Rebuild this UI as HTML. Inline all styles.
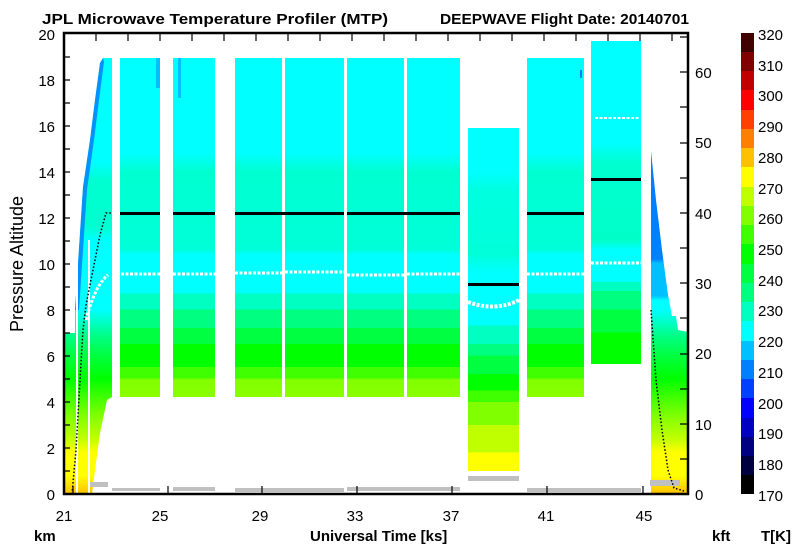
<!DOCTYPE html>
<html><head><meta charset="utf-8"><style>
html,body{margin:0;padding:0;background:#fff}
svg{display:block}
text{font-family:"Liberation Sans",Arial,sans-serif;fill:#000}
</style></head><body>
<svg width="800" height="559" viewBox="0 0 800 559" xmlns="http://www.w3.org/2000/svg">
<defs>
<linearGradient id="gn" gradientUnits="userSpaceOnUse" x1="0" y1="494" x2="0" y2="33">
<stop offset="0" stop-color="#c0ff00"/>
<stop offset="0.25" stop-color="#80ff00"/><stop offset="0.25" stop-color="#40ff00"/>
<stop offset="0.275" stop-color="#40ff00"/><stop offset="0.275" stop-color="#00ff00"/>
<stop offset="0.325" stop-color="#00ff00"/><stop offset="0.325" stop-color="#00ff40"/>
<stop offset="0.36" stop-color="#00ff40"/><stop offset="0.36" stop-color="#00ff80"/>
<stop offset="0.40" stop-color="#00ff80"/><stop offset="0.40" stop-color="#00ffc0"/>
<stop offset="0.435" stop-color="#00ffc0"/><stop offset="0.435" stop-color="#00ffff"/>
<stop offset="0.52" stop-color="#00ffff"/><stop offset="0.53" stop-color="#00ffd8"/>
<stop offset="0.70" stop-color="#00ffd0"/><stop offset="0.74" stop-color="#00ffff"/>
<stop offset="1" stop-color="#00ffff"/>
</linearGradient>
<linearGradient id="g7" gradientUnits="userSpaceOnUse" x1="0" y1="494" x2="0" y2="33">
<stop offset="0.05" stop-color="#ffff00"/><stop offset="0.09" stop-color="#ffff00"/>
<stop offset="0.09" stop-color="#c0ff00"/><stop offset="0.15" stop-color="#c0ff00"/>
<stop offset="0.15" stop-color="#80ff00"/><stop offset="0.20" stop-color="#80ff00"/>
<stop offset="0.20" stop-color="#40ff00"/><stop offset="0.225" stop-color="#40ff00"/>
<stop offset="0.225" stop-color="#00ff00"/><stop offset="0.26" stop-color="#00ff00"/>
<stop offset="0.26" stop-color="#00ff40"/><stop offset="0.30" stop-color="#00ff40"/>
<stop offset="0.30" stop-color="#00ff80"/><stop offset="0.325" stop-color="#00ff80"/>
<stop offset="0.325" stop-color="#00ffc0"/><stop offset="0.365" stop-color="#00ffc0"/>
<stop offset="0.365" stop-color="#00ffff"/><stop offset="0.48" stop-color="#00ffff"/>
<stop offset="0.52" stop-color="#00ffd8"/><stop offset="0.66" stop-color="#00ffe0"/>
<stop offset="0.70" stop-color="#00ffff"/><stop offset="1" stop-color="#00ffff"/>
</linearGradient>
<linearGradient id="g9" gradientUnits="userSpaceOnUse" x1="0" y1="494" x2="0" y2="33">
<stop offset="0.28" stop-color="#00ff00"/><stop offset="0.35" stop-color="#00ff00"/>
<stop offset="0.35" stop-color="#00ff40"/><stop offset="0.40" stop-color="#00ff40"/>
<stop offset="0.40" stop-color="#00ff80"/><stop offset="0.44" stop-color="#00ff80"/>
<stop offset="0.44" stop-color="#00ffc0"/><stop offset="0.46" stop-color="#00ffc0"/>
<stop offset="0.46" stop-color="#00ffff"/><stop offset="0.53" stop-color="#00ffff"/>
<stop offset="0.55" stop-color="#00ffc8"/><stop offset="0.72" stop-color="#00ffd0"/>
<stop offset="0.76" stop-color="#00ffff"/><stop offset="1" stop-color="#00ffff"/>
</linearGradient>
<linearGradient id="gw" gradientUnits="userSpaceOnUse" x1="0" y1="494" x2="0" y2="33">
<stop offset="0" stop-color="#ffc000"/><stop offset="0.04" stop-color="#ffff00"/>
<stop offset="0.09" stop-color="#ffff00"/><stop offset="0.12" stop-color="#c0ff00"/>
<stop offset="0.17" stop-color="#80ff00"/><stop offset="0.21" stop-color="#40ff00"/>
<stop offset="0.25" stop-color="#00ff00"/><stop offset="0.30" stop-color="#00ff40"/>
<stop offset="0.34" stop-color="#00ff80"/><stop offset="0.37" stop-color="#00ffc0"/>
<stop offset="0.40" stop-color="#00ffff"/><stop offset="0.55" stop-color="#00ffff"/>
<stop offset="0.58" stop-color="#00ffd0"/><stop offset="0.68" stop-color="#00ffd0"/>
<stop offset="0.72" stop-color="#00ffff"/><stop offset="1" stop-color="#00ffff"/>
</linearGradient>
<linearGradient id="gd" gradientUnits="userSpaceOnUse" x1="0" y1="494" x2="0" y2="33">
<stop offset="0" stop-color="#ffc000"/><stop offset="0.04" stop-color="#ffff00"/>
<stop offset="0.09" stop-color="#ffff00"/><stop offset="0.12" stop-color="#c0ff00"/>
<stop offset="0.17" stop-color="#80ff00"/><stop offset="0.21" stop-color="#40ff00"/>
<stop offset="0.25" stop-color="#00ff00"/><stop offset="0.30" stop-color="#00ff40"/>
<stop offset="0.34" stop-color="#00ff80"/><stop offset="0.37" stop-color="#00ffc0"/>
<stop offset="0.40" stop-color="#00ffff"/><stop offset="0.42" stop-color="#00ffff"/>
<stop offset="0.43" stop-color="#00c0ff"/><stop offset="0.50" stop-color="#00c0ff"/>
<stop offset="0.51" stop-color="#0080ff"/><stop offset="1" stop-color="#0080ff"/>
</linearGradient>
</defs>

<!-- climb -->
<polygon fill="url(#gw)" points="64,333 75,333 75,310 80,233 83,187 90,140 95,100 100,63 103,58 112,58 112,397 107,400 100,433 95,470 92,494 64,494"/>
<polygon fill="#0080ff" opacity="0.85" points="75,310 80,233 83,187 90,140 95,100 100,63 103,58 104,62 99,100 94,140 87,190 84,235 79,310"/>
<rect x="76" y="240" width="2" height="254" fill="#fff"/>
<rect x="88" y="240" width="2" height="254" fill="#fff"/>
<!-- segments -->
<rect x="120" y="58" width="40" height="339" fill="url(#gn)"/>
<rect x="173" y="58" width="42" height="339" fill="url(#gn)"/>
<rect x="235" y="58" width="47" height="339" fill="url(#gn)"/>
<rect x="285" y="58" width="59" height="339" fill="url(#gn)"/>
<rect x="347" y="58" width="57" height="339" fill="url(#gn)"/>
<rect x="407" y="58" width="53" height="339" fill="url(#gn)"/>
<rect x="468" y="128" width="51" height="343" fill="url(#g7)"/>
<rect x="527" y="58" width="57" height="339" fill="url(#gn)"/>
<rect x="591" y="41" width="50" height="323" fill="url(#g9)"/>
<rect x="580" y="70" width="2" height="8" fill="#0080ff"/>
<rect x="178" y="58" width="3" height="40" fill="#00c0ff"/>
<rect x="156" y="58" width="4" height="30" fill="#00c0ff"/>
<!-- descent -->
<polygon fill="url(#gd)" points="651,151 656,200 662,250 668,295 672,316 676,316 678,330 688,332 688,494 651,494"/>
<!-- white dotted lines -->
<g stroke="#fff" stroke-width="3" stroke-dasharray="3,1.5" fill="none">
<path d="M112,274H160M173,274H215M235,273H282M285,272H344M347,275H404M407,274H460M527,274H584M591,263H641"/>
<path d="M468,302 Q495,312 519,300" stroke-width="4"/>
<path d="M595,118H640" stroke-width="2"/>
<path d="M86,320 Q95,285 108,275"/>
</g>
<!-- gray ground dots -->
<g fill="#c0c0c0">
<rect x="90" y="482" width="18" height="5"/><rect x="112" y="488" width="48" height="3"/>
<rect x="173" y="487" width="42" height="4"/><rect x="235" y="488" width="109" height="4"/>
<rect x="347" y="487" width="113" height="4"/><rect x="468" y="476" width="51" height="5"/>
<rect x="527" y="488" width="114" height="4"/><rect x="650" y="480" width="30" height="6"/>
</g>
<!-- aircraft altitude -->
<g fill="#000">
<rect x="120" y="212" width="40" height="3"/><rect x="173" y="212" width="42" height="3"/>
<rect x="235" y="212" width="109" height="3"/><rect x="347" y="212" width="113" height="3"/>
<rect x="468" y="283" width="51" height="3"/><rect x="527" y="212" width="57" height="3"/>
<rect x="591" y="178" width="50" height="3"/>
</g>
<polyline fill="none" stroke="#000" stroke-width="1.5" stroke-dasharray="1.5,2" points="72,494 76,450 80,380 83,330 86,305 92,275 100,235 106,213 112,213"/>
<polyline fill="none" stroke="#000" stroke-width="1.5" stroke-dasharray="1.5,2" points="651,310 656,380 662,430 668,470 674,488 684,491"/>

<!-- axes -->
<rect x="64" y="33" width="624" height="461" fill="none" stroke="#000" stroke-width="2.5"/>
<g stroke="#000" stroke-width="1.2">
<path d="M64,471h6M64,448h6M64,425h6M64,402h6M64,379h6M64,356h6M64,333h6M64,310h6M64,287h6M64,264h6M64,241h6M64,218h6M64,195h6M64,172h6M64,149h6M64,126h6M64,103h6M64,80h6M64,57h6"/>
<path d="M96,33v8M128,33v8M160,33v8M192,33v8M224,33v8M256,33v8M288,33v8M320,33v8M352,33v8M384,33v8M416,33v8M448,33v8M480,33v8M512,33v8M544,33v8M576,33v8M608,33v8M640,33v8M672,33v8"/>
<path d="M73,494v-8M168,494v-8M262,494v-8M357,494v-8M452,494v-8M547,494v-8M643,494v-8"/>
<path d="M688,459h-8M688,424h-8M688,389h-8M688,354h-8M688,318h-8M688,283h-8M688,248h-8M688,213h-8M688,178h-8M688,143h-8M688,107h-8M688,72h-8M688,37h-8"/>
</g>
<g font-size="15" text-anchor="end">
<text x="55" y="500">0</text><text x="55" y="454">2</text><text x="55" y="408">4</text>
<text x="55" y="362">6</text><text x="55" y="316">8</text><text x="55" y="270">10</text>
<text x="55" y="224">12</text><text x="55" y="178">14</text><text x="55" y="132">16</text>
<text x="55" y="86">18</text><text x="55" y="40">20</text>
</g>
<g font-size="15">
<text x="695" y="500">0</text><text x="695" y="430">10</text><text x="695" y="359">20</text>
<text x="695" y="289">30</text><text x="695" y="219">40</text><text x="695" y="148">50</text><text x="695" y="78">60</text>
</g>
<g font-size="15" text-anchor="middle">
<text x="64" y="521">21</text><text x="160" y="521">25</text><text x="260" y="521">29</text>
<text x="355" y="521">33</text><text x="451" y="521">37</text><text x="546" y="521">41</text><text x="644" y="521">45</text>
</g>
<!-- colorbar -->
<g>
<rect x="741" y="33" width="13" height="20" fill="#400000"/><rect x="741" y="52" width="13" height="20" fill="#800000"/>
<rect x="741" y="71" width="13" height="20" fill="#c00000"/><rect x="741" y="90" width="13" height="20" fill="#ff0000"/>
<rect x="741" y="110" width="13" height="20" fill="#ff4000"/><rect x="741" y="129" width="13" height="20" fill="#ff8000"/>
<rect x="741" y="148" width="13" height="20" fill="#ffc000"/><rect x="741" y="167" width="13" height="20" fill="#ffff00"/>
<rect x="741" y="187" width="13" height="20" fill="#c0ff00"/><rect x="741" y="206" width="13" height="20" fill="#80ff00"/>
<rect x="741" y="225" width="13" height="20" fill="#40ff00"/><rect x="741" y="244" width="13" height="20" fill="#00ff00"/>
<rect x="741" y="264" width="13" height="20" fill="#00ff40"/><rect x="741" y="283" width="13" height="20" fill="#00ff80"/>
<rect x="741" y="302" width="13" height="20" fill="#00ffc0"/><rect x="741" y="321" width="13" height="20" fill="#00ffff"/>
<rect x="741" y="341" width="13" height="20" fill="#00c0ff"/><rect x="741" y="360" width="13" height="20" fill="#0080ff"/>
<rect x="741" y="379" width="13" height="20" fill="#0040ff"/><rect x="741" y="398" width="13" height="20" fill="#0000ff"/>
<rect x="741" y="418" width="13" height="20" fill="#0000c0"/><rect x="741" y="437" width="13" height="20" fill="#000080"/>
<rect x="741" y="456" width="13" height="20" fill="#000040"/><rect x="741" y="475" width="13" height="19" fill="#000000"/>
</g>
<g font-size="15">
<text x="758" y="40">320</text><text x="758" y="71">310</text><text x="758" y="101">300</text>
<text x="758" y="132">290</text><text x="758" y="163">280</text><text x="758" y="194">270</text>
<text x="758" y="224">260</text><text x="758" y="255">250</text><text x="758" y="286">240</text>
<text x="758" y="316">230</text><text x="758" y="347">220</text><text x="758" y="378">210</text>
<text x="758" y="409">200</text><text x="758" y="439">190</text><text x="758" y="470">180</text><text x="758" y="501">170</text>
</g>
<!-- titles -->
<g font-weight="bold" font-size="15">
<text x="42" y="24" textLength="346" lengthAdjust="spacingAndGlyphs">JPL Microwave Temperature Profiler (MTP)</text>
<text x="440" y="24" textLength="249" lengthAdjust="spacingAndGlyphs">DEEPWAVE  Flight Date: 20140701</text>
<text x="34" y="541">km</text>
<text x="310" y="541">Universal Time [ks]</text>
<text x="712" y="541">kft</text>
<text x="761" y="541">T[K]</text>
</g>
<text transform="translate(23,264) rotate(-90)" font-size="18" text-anchor="middle">Pressure Altitude</text>
</svg>
</body></html>
